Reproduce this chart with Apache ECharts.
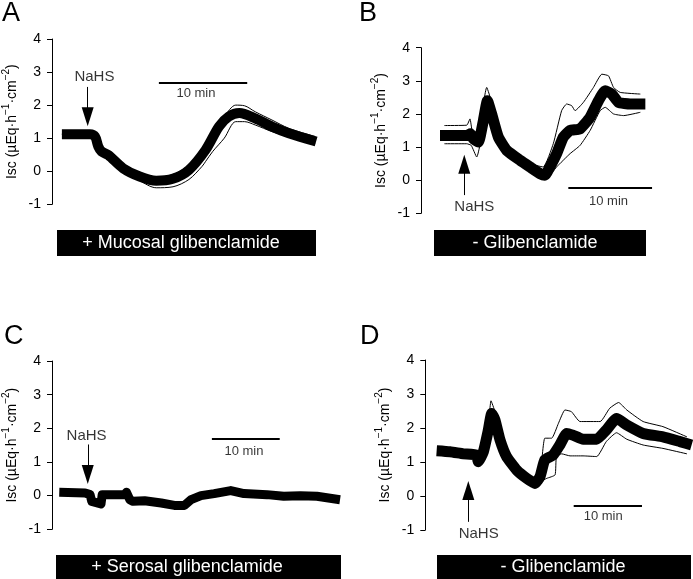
<!DOCTYPE html>
<html>
<head>
<meta charset="utf-8">
<script src="https://cdn.jsdelivr.net/npm/echarts@6/dist/echarts.min.js"></script>
<style>
html,body{margin:0;padding:0;background:#fff;}
#c{width:693px;height:579px;}
</style>
</head>
<body>
<div id="c"></div>
<script>
// ---------- DATA (time in minutes, Isc in µEq·h-1·cm-2) ----------
const yTicks = [-1, 0, 1, 2, 3, 4];

// Panel A: + Mucosal glibenclamide
const A_t    = [1.12, 4.3, 4.87, 5.24, 5.6, 6.37, 8.05, 9.92, 11.8, 13.67, 15.5, 17.4, 18.9, 20.0, 21.2, 23.0, 24.9, 26.8, 29.9];
const A_mean = [1.12, 1.12, 1.05, 0.75, 0.6, 0.49, 0.09, -0.16, -0.29, -0.23, 0.04, 0.65, 1.35, 1.65, 1.76, 1.6, 1.35, 1.15, 0.9];
const A_semT = [1.12, 4.3, 4.9, 5.3, 6.4, 8.0, 9.9, 11.8, 13.7, 15.5, 17.0, 17.4, 18.2, 19.5, 20.8, 21.8, 23.0, 24.9, 26.8, 29.8];
const A_up   = [1.12, 1.12, 1.05, 0.78, 0.52, 0.12, -0.1, -0.17, -0.1, 0.19, 0.7, 0.85, 1.15, 1.65, 2.0, 1.98, 1.8, 1.55, 1.3, 1.05];
const A_lo   = [1.12, 1.12, 1.05, 0.72, 0.45, 0.05, -0.28, -0.5, -0.47, -0.25, 0.15, 0.3, 0.6, 1.0, 1.5, 1.5, 1.4, 1.2, 1.05, 0.85];

// Panel B: - Glibenclamide
const B_t    = [2.27, 5.46, 5.9, 6.25, 6.85, 7.45, 7.93, 8.44, 9.24, 10.24, 11.83, 13.0, 14.2, 14.8, 15.4, 16.2, 17.0, 17.8, 19.0, 20.2, 21.2, 22.0, 22.8, 23.6, 25.0, 26.8];
const B_mean = [1.35, 1.35, 1.4, 1.25, 1.15, 1.8, 2.4, 2.0, 1.3, 0.9, 0.6, 0.4, 0.2, 0.15, 0.4, 0.8, 1.3, 1.5, 1.55, 1.9, 2.4, 2.7, 2.6, 2.35, 2.3, 2.3];
const B_upT  = [2.8, 5.46, 5.85, 6.1, 6.45, 7.05, 7.85, 8.44, 9.24, 10.24, 11.83, 13.0, 14.6, 15.8, 16.8, 17.4, 18.0, 18.4, 19.4, 20.6, 21.6, 22.4, 23.0, 23.8, 26.2];
const B_up   = [1.65, 1.66, 1.85, 1.5, 1.35, 1.7, 2.8, 2.35, 1.45, 1.0, 0.7, 0.5, 0.4, 1.1, 2.1, 2.3, 2.25, 2.1, 2.35, 2.8, 3.2, 3.15, 2.8, 2.65, 2.6];
const B_loT  = [2.8, 5.46, 6.0, 6.65, 7.65, 8.0, 8.44, 9.24, 10.24, 11.83, 13.0, 14.2, 15.0, 16.2, 17.8, 19.0, 20.2, 21.4, 22.0, 23.0, 24.2, 26.2];
const B_lo   = [1.1, 1.1, 1.05, 0.7, 1.85, 2.2, 1.9, 1.2, 0.8, 0.5, 0.3, 0.05, 0.05, 0.4, 0.8, 1.05, 1.5, 2.1, 2.2, 2.0, 1.95, 2.05];

// Panel C: + Serosal glibenclamide
const C_t    = [1.07, 4.88, 5.61, 5.86, 6.1, 7.22, 7.4, 10.7, 10.98, 11.47, 11.96, 13.66, 16.1, 18.05, 19.52, 20.5, 21.96, 23.9, 26.35, 28.3, 31.7, 34.16, 36.6, 39.05, 42.46];
const C_mean = [0.1, 0.08, 0.03, -0.17, -0.22, -0.25, 0.03, 0.03, 0.1, -0.12, -0.17, -0.15, -0.22, -0.29, -0.29, -0.12, 0.0, 0.06, 0.15, 0.06, 0.03, -0.02, 0.0, -0.02, -0.12];

// Panel D: - Glibenclamide
const D_t    = [1.66, 3.62, 5.57, 7.52, 7.76, 8.5, 9.23, 9.72, 10.2, 10.94, 11.9, 13.4, 14.85, 16.06, 16.8, 17.5, 18.7, 19.7, 20.7, 21.6, 23.1, 25.1, 26.5, 28.0, 29.5, 31.9, 34.8, 37.3, 39.0];
const D_mean = [1.33, 1.3, 1.24, 1.2, 1.01, 1.3, 1.94, 2.43, 2.24, 1.65, 1.16, 0.76, 0.52, 0.37, 0.57, 1.06, 1.2, 1.5, 1.84, 1.79, 1.67, 1.67, 1.94, 2.28, 2.09, 1.84, 1.74, 1.6, 1.5];
const D_upT  = [9.2, 9.62, 10.2, 10.94, 11.9, 13.4, 14.85, 16.06, 16.8, 17.5, 18.5, 19.5, 20.45, 21.4, 22.65, 25.6, 27.0, 28.3, 29.5, 31.9, 34.8, 38.3];
const D_up   = [1.94, 2.8, 2.48, 1.75, 1.25, 0.85, 0.6, 0.45, 0.6, 1.7, 1.7, 2.14, 2.53, 2.48, 2.19, 2.19, 2.58, 2.75, 2.53, 2.19, 2.04, 1.74];
const D_loT  = [9.72, 10.94, 11.9, 13.4, 14.85, 16.06, 16.8, 17.8, 19.0, 19.2, 19.97, 21.2, 23.1, 25.1, 26.5, 28.0, 29.5, 31.9, 34.8, 38.3];
const D_lo   = [2.3, 1.6, 1.1, 0.7, 0.47, 0.33, 0.42, 0.52, 0.62, 1.16, 1.24, 1.18, 1.18, 1.16, 1.6, 1.86, 1.67, 1.5, 1.4, 1.24];

// Annotations: NaHS arrow [t, tail, head-centre], scale bar [t0, t1, y], text labels
const panelTitles = ['+ Mucosal glibenclamide', '- Glibenclamide', '+ Serosal glibenclamide', '- Glibenclamide'];
const panelLetters = ['A', 'B', 'C', 'D'];
const arrows = [[4.04, 2.55, 1.65], [5.17, -0.45, 0.48], [5.27, 1.52, 0.63], [6.3, -0.76, 0.16]];
const scaleBars = [[12.1, 22.1, 2.68], [17.6, 27.6, -0.23], [23.57, 33.57, 1.7], [21.73, 31.73, -0.29]];
const nahsText = [[4.8, 2.85], [6.37, -0.82], [5.1, 1.79], [7.82, -1.1]];
const minText = [[16.3, 2.34], [22.4, -0.65], [28.3, 1.32], [26.05, -0.61]];

// ---------- LAYOUT ----------
const FONT = 'Liberation Sans, Arial, Helvetica, sans-serif';
const grids = [
  {left: 50, top: 39, width: 267, height: 165.3},
  {left: 421, top: 47.7, width: 234.4, height: 165.6},
  {left: 50, top: 361, width: 293.7, height: 168.3},
  {left: 425.3, top: 360, width: 267.7, height: 170}
];
const xMax = [30, 28, 43, 39.2];
const thick = [10, 11, 9, 11];
const smoothness = [0.3, 0.15, 0, 0.15];

function zip(t, v) { return t.map((x, i) => [x, v[i]]); }

const meanSets = [zip(A_t, A_mean), zip(B_t, B_mean), zip(C_t, C_mean), zip(D_t, D_mean)];
const upSets = [zip(A_semT, A_up), zip(B_upT, B_up), null, zip(D_upT, D_up)];
const loSets = [zip(A_semT, A_lo), zip(B_loT, B_lo), null, zip(D_loT, D_lo)];

const xAxis = [], yAxis = [], series = [];
for (let i = 0; i < 4; i++) {
  xAxis.push({type: 'value', gridIndex: i, min: 0, max: xMax[i], show: false});
  yAxis.push({
    type: 'value', gridIndex: i, min: -1, max: 4, interval: 1,
    axisLine: {show: true, lineStyle: {color: '#000', width: 1}},
    axisTick: {show: true, inside: false, length: 5, lineStyle: {color: '#000'}},
    axisLabel: {color: '#000', fontSize: 14, fontFamily: FONT, margin: 11},
    splitLine: {show: false},
    name: '{n|Isc (µEq·h}{s|−1}{n|·cm}{s|−2}{n|)}',
    nameLocation: 'middle', nameRotate: 90, nameGap: 33,
    nameTextStyle: {color: '#000', fontSize: 14, fontFamily: FONT,
      rich: {
        n: {fontSize: 14, fontFamily: FONT, color: '#000', lineHeight: 18, verticalAlign: 'bottom'},
        s: {fontSize: 10, fontFamily: FONT, color: '#000', lineHeight: 18, verticalAlign: 'top', padding: [0, 0, 0, 0]}
      }}
  });
  if (upSets[i]) {
    series.push({type: 'line', xAxisIndex: i, yAxisIndex: i, data: upSets[i], showSymbol: false, symbol: 'none',
      smooth: smoothness[i], lineStyle: {color: '#000', width: 1}, z: 3, silent: true});
    series.push({type: 'line', xAxisIndex: i, yAxisIndex: i, data: loSets[i], showSymbol: false, symbol: 'none',
      smooth: smoothness[i], lineStyle: {color: '#000', width: 1}, z: 3, silent: true});
  }
  series.push({
    type: 'line', xAxisIndex: i, yAxisIndex: i, data: meanSets[i], showSymbol: false, symbol: 'none',
    smooth: smoothness[i],
    lineStyle: {color: '#000', width: thick[i], cap: 'butt', join: 'round'}, z: 4, silent: true,
    markLine: {
      silent: true, animation: false,
      label: {show: false},
      data: [
        [{coord: [arrows[i][0], arrows[i][1]], symbol: 'none', lineStyle: {color: '#000', width: 1, type: 'solid'}},
         {coord: [arrows[i][0], arrows[i][2]], symbol: 'triangle', symbolSize: [12, 19]}],
        [{coord: [scaleBars[i][0], scaleBars[i][2]], symbol: 'none', lineStyle: {color: '#000', width: 2, type: 'solid'}},
         {coord: [scaleBars[i][1], scaleBars[i][2]], symbol: 'none'}]
      ],
      lineStyle: {color: '#000', type: 'solid'},
      itemStyle: {color: '#000'}
    }
  });
  const labels = ['NaHS', '10 min'];
  series.push({
    type: 'scatter', xAxisIndex: i, yAxisIndex: i, clip: false, silent: true, symbolSize: 0, z: 5,
    data: [
      {value: nahsText[i], label: {fontSize: 15}},
      {value: minText[i], label: {fontSize: 13}}
    ],
    label: {show: true, position: 'inside', color: '#000', fontFamily: FONT,
      formatter: p => labels[p.dataIndex]}
  });
}

const boxes = [
  {x: 57, y: 230, w: 259, h: 26, tx: 181, ty: 243},
  {x: 434, y: 230, w: 212, h: 26, tx: 535, ty: 243},
  {x: 56, y: 555, w: 285, h: 30, tx: 187, ty: 567},
  {x: 437, y: 555, w: 254, h: 30, tx: 563, ty: 567}
];
const letterPos = [[2, 14], [359, 14], [4, 337], [360, 337]];

const graphic = [];
for (let i = 0; i < 4; i++) {
  const b = boxes[i];
  graphic.push({type: 'rect', shape: {x: b.x, y: b.y, width: b.w, height: b.h}, style: {fill: '#000'}, silent: true});
  graphic.push({type: 'text', x: b.tx, y: b.ty, silent: true,
    style: {text: panelTitles[i], fill: '#fff', font: '18px ' + FONT, textAlign: 'center', textVerticalAlign: 'middle'}});
  graphic.push({type: 'text', x: letterPos[i][0], y: letterPos[i][1], silent: true,
    style: {text: panelLetters[i], fill: '#000', font: '27px ' + FONT, textAlign: 'left', textVerticalAlign: 'middle'}});
}

const chart = echarts.init(document.getElementById('c'), null, {renderer: 'canvas'});
chart.setOption({
  animation: false,
  backgroundColor: '#fff',
  grid: grids,
  xAxis: xAxis,
  yAxis: yAxis,
  series: series,
  graphic: graphic
});
</script>
</body>
</html>
